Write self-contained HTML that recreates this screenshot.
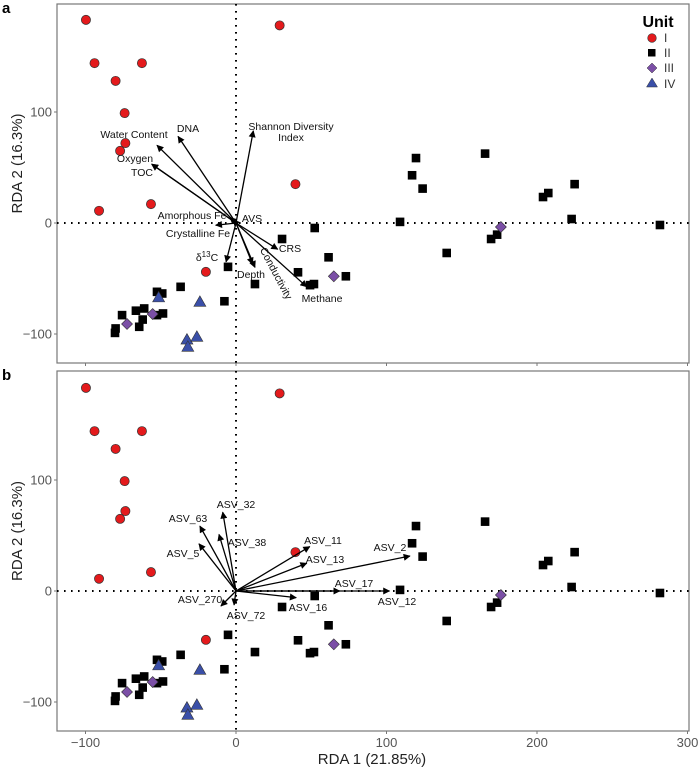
<!DOCTYPE html>
<html><head><meta charset="utf-8"><style>
body{margin:0;background:#fff;}
svg{display:block;font-family:"Liberation Sans",sans-serif;}
</style></head><body>
<svg id="chart" width="699" height="771" viewBox="0 0 699 771" xmlns="http://www.w3.org/2000/svg"></svg>
<script>
// ---- data ----
const unitIx=[-99.7,-94,-62.5,-80,-74,-73.5,-77,-91,-56.5,-20,29,39.5];
const unitIy=[183,144,144,128,99,72,65,11,17,-44,178,35];
const unitIIx=[-80.4,-80,-75.7,-64.3,-66.5,-61,-62,-52.5,-49,-48.5,-52.5,-36.8,-7.7,-5.3,12.6,30.6,52.3,41.2,61.5,49.2,51.8,73,109,119.6,117,124,165.5,140,169.5,173.5,204,207.5,225,223,281.7];
const unitIIy=[-99,-95,-83,-93.5,-79,-77,-87,-62,-63.5,-81.5,-83,-57.5,-70.5,-39.5,-55,-14.4,-4.5,-44.4,-30.9,-56,-55,-48,1,58.5,43,31,62.5,-27,-14.4,-10.5,23.4,27,35,3.6,-1.8];
const unitIIIx=[-72.4,-55.4,65,176];
const unitIIIy=[-91,-82,-48,-3.6];
const unitIVx=[-51.4,-24,-32.6,-26,-32];
const unitIVy=[-67,-71,-105,-102.5,-111.5];
const envNames=["Water Content","DNA","Oxygen","TOC","Shannon Diversity Index","Amorphous Fe","AVS","Crystalline Fe","δ13C","Depth","Conductivity","CRS","Methane"];
const envX=[-52.5,-38.5,-56,-56,11.5,-4,-2,-13.5,-6.6,12.6,11,27.7,47];
const envY=[70,78,53,53,83,5,3,-2,-35,-40,-37,-23.7,-57.5];
const asvNames=["ASV_32","ASV_63","ASV_38","ASV_5","ASV_270","ASV_72","ASV_11","ASV_13","ASV_16","ASV_2","ASV_17","ASV_12"];
const asvX=[-8.8,-24,-11.3,-24.6,-10,-1.3,49,47,40,115.6,69,102];
const asvY=[71,58.5,51,42.5,-13.5,-12.6,40,25,-6,31.5,0,0];
const xTicks=[-100,0,100,200,300];
const yTicks=[-100,0,100];

// ---- layout ----
const NS="http://www.w3.org/2000/svg";
const svg=document.getElementById('chart');
const L=57,R=689,XS=1.505,X0=236,YS=1.11;
const panels=[{top:4,bottom:363,y0:223,label:"a"},{top:371,bottom:731,y0:591,label:"b"}];
function sx(v){return X0+v*XS;}
function mk(tag,attrs,parent){const e=document.createElementNS(NS,tag);for(const k in attrs)e.setAttribute(k,attrs[k]);(parent||svg).appendChild(e);return e;}
function txt(s,x,y,attrs,parent){const t=mk('text',Object.assign({x:x,y:y},attrs),parent);t.textContent=s;return t;}

const defs=mk('defs',{});
const mkr=mk('marker',{id:'ah',viewBox:'0 0 10 10',refX:'9',refY:'5',markerWidth:'9',markerHeight:'7',orient:'auto',markerUnits:'userSpaceOnUse'},defs);
mk('path',{d:'M0,0 L10,5 L0,10 z',fill:'#000'},mkr);

function drawPoints(g,sy){
  unitIx.forEach((v,i)=>{const c=mk('circle',{cx:sx(v),cy:sy(unitIy[i]),r:4.6,fill:'#e41a1c',stroke:'#333','stroke-width':0.7},g);
    });
  unitIIx.forEach((v,i)=>{const r=mk('rect',{x:sx(v)-4.3,y:sy(unitIIy[i])-4.3,width:8.6,height:8.6,fill:'#000'},g);
    });
  unitIIIx.forEach((v,i)=>{const x=sx(v),y=sy(unitIIIy[i]);const p=mk('polygon',{points:`${x},${y-5.5} ${x+5.5},${y} ${x},${y+5.5} ${x-5.5},${y}`,fill:'#7b4fa6',stroke:'#333','stroke-width':0.6},g);
    });
  unitIVx.forEach((v,i)=>{const x=sx(v),y=sy(unitIVy[i]);const p=mk('polygon',{points:`${x},${y-6} ${x+6},${y+4.5} ${x-6},${y+4.5}`,fill:'#3a4fa8',stroke:'#333','stroke-width':0.6},g);
    });
}

panels.forEach((P,pi)=>{
  const g=mk('g',{});
  
  
  const sy=v=>P.y0-v*YS;
  const fr=mk('rect',{x:L,y:P.top,width:R-L,height:P.bottom-P.top,fill:'none',stroke:'#777','stroke-width':1.2},g);
  
  const h=mk('line',{x1:L,x2:R,y1:sy(0),y2:sy(0),stroke:'#000','stroke-width':2,'stroke-dasharray':'1.6,5.4'},g);
  
  const v=mk('line',{x1:sx(0),x2:sx(0),y1:P.top,y2:P.bottom,stroke:'#000','stroke-width':2,'stroke-dasharray':'1.6,5.4'},g);
  
  yTicks.forEach(t=>{
    mk('line',{x1:L-3,x2:L,y1:sy(t),y2:sy(t),stroke:'#777'},g);
    const tl=txt(t===-100?'−100':String(t),L-5,sy(t)+4.5,{'text-anchor':'end','font-size':13,fill:'#555'},g);
    
  });
  xTicks.forEach(t=>{
    mk('line',{x1:sx(t),x2:sx(t),y1:P.bottom,y2:P.bottom+3,stroke:'#777'},g);
    if(pi===1){const tl=txt(t===-100?'−100':String(t),sx(t),P.bottom+16,{'text-anchor':'middle','font-size':13,fill:'#555'},g);
      }
  });
  const yt=txt('RDA 2 (16.3%)',0,0,{'font-size':15,fill:'#222','text-anchor':'middle',transform:`translate(22,${(P.top+P.bottom)/2-20}) rotate(-90)`},g);
  
  const pl=txt(P.label,2,P.top+9,{'font-size':15,'font-weight':'bold',fill:'#000'},g);
  
  drawPoints(g,sy);
  const names=pi===0?envNames:asvNames, ax=pi===0?envX:asvX, ay=pi===0?envY:asvY;
  ax.forEach((x,i)=>{
    const a=mk('line',{x1:sx(0),y1:sy(0),x2:sx(x),y2:sy(ay[i]),stroke:'#000','stroke-width':1.3,'marker-end':'url(#ah)'},g);
    
  });
});

// labels panel a
const sa=[["Water Content",134,138],["DNA",188,132],["Oxygen",135,162],["TOC",142,176],["Shannon Diversity",291,130],["Index",291,141],["Amorphous Fe",192,219],["AVS",252,222],["Crystalline Fe",198,237],["CRS",290,252],["Depth",251,278],["Methane",322,302]];
sa.forEach(l=>{const t=txt(l[0],l[1],l[2],{'text-anchor':'middle','font-size':10.5,fill:'#111'});
  });
const d13=mk('text',{x:207,y:261,'text-anchor':'middle','font-size':10.5,fill:'#111'});
d13.innerHTML='δ<tspan dy="-4" font-size="8">13</tspan><tspan dy="4">C</tspan>';

const cond=txt('Conductivity',0,0,{'text-anchor':'middle','font-size':10.5,fill:'#111',transform:'translate(273,275) rotate(62)'});

// labels panel b
const sb=[["ASV_32",236,508],["ASV_63",188,522],["ASV_38",247,546],["ASV_5",183,557],["ASV_270",200,603],["ASV_72",246,619],["ASV_11",323,544],["ASV_13",325,563],["ASV_16",308,611],["ASV_2",390,551],["ASV_17",354,587],["ASV_12",397,605]];
sb.forEach(l=>{const t=txt(l[0],l[1],l[2],{'text-anchor':'middle','font-size':10.5,fill:'#111'});
  });

// x title
const xt=txt('RDA 1 (21.85%)',372,764,{'text-anchor':'middle','font-size':15,fill:'#222'});


// legend
const lg=mk('g',{});

txt('Unit',658,27,{'text-anchor':'middle','font-size':16,'font-weight':'bold',fill:'#000'},lg);
mk('circle',{cx:652,cy:38,r:4.3,fill:'#e41a1c',stroke:'#333','stroke-width':0.6},lg);
mk('rect',{x:648,y:49,width:7.5,height:7.5,fill:'#000'},lg);
mk('polygon',{points:'652,63 657,68 652,73 647,68',fill:'#7b4fa6',stroke:'#333','stroke-width':0.5},lg);
mk('polygon',{points:'652,78 657.5,87 646.5,87',fill:'#3a4fa8',stroke:'#333','stroke-width':0.5},lg);
[["I",42],["II",57],["III",72],["IV",88]].forEach(e=>{const t=txt(e[0],664,e[1],{'font-size':12,fill:'#333'},lg);
  });
</script>
</body></html>
